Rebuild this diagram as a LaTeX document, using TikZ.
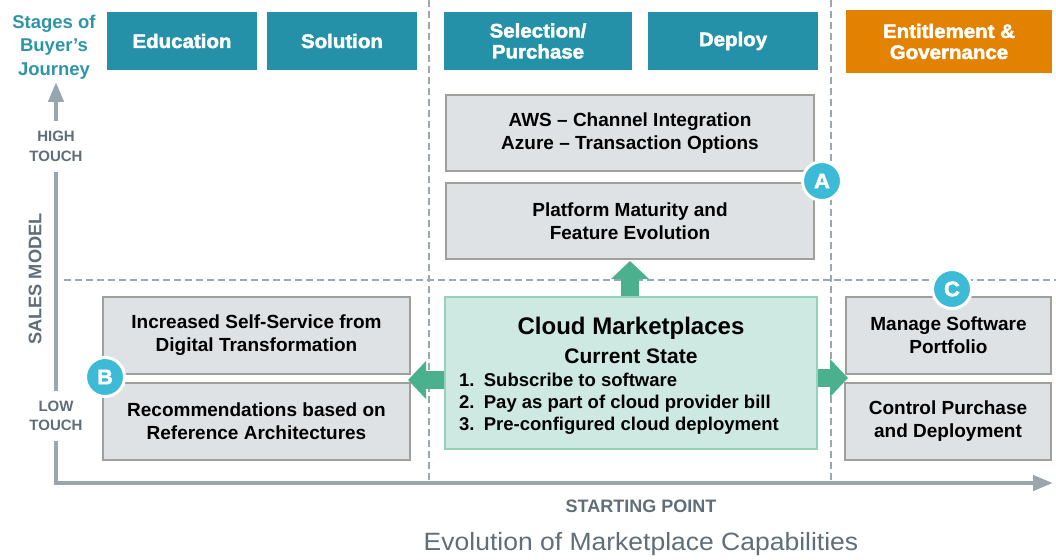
\documentclass[tikz,border=0pt]{standalone}
\usepackage{fontspec}
\setmainfont{Liberation Sans}
\usetikzlibrary{arrows.meta,positioning}

\definecolor{teal}{HTML}{2591A9}
\definecolor{stagetxt}{HTML}{2E94A8}
\definecolor{orangehd}{HTML}{E38200}
\definecolor{boxfill}{HTML}{DEE2E5}
\definecolor{boxline}{HTML}{A09F99}
\definecolor{cmfill}{HTML}{CDE9E1}
\definecolor{cmline}{HTML}{92D3BA}
\definecolor{arrowgreen}{HTML}{4BB08E}
\definecolor{axisgray}{HTML}{9AA6AD}
\definecolor{dashgray}{HTML}{9AA8B0}
\definecolor{labelgray}{HTML}{5F6E78}
\definecolor{badge}{HTML}{3CBAD6}

\newfontfamily\heavyfont[FakeBold=2.2,FakeStretch=1.05]{Liberation Sans Bold}

\tikzset{
  header/.style={rectangle, fill=#1, text=white, align=center, inner sep=0pt,
    font=\fontsize{19.5}{21}\heavyfont},
  gbox/.style={rectangle, draw=boxline, fill=boxfill, line width=1.6pt, align=center,
    inner sep=0pt, font=\fontsize{19}{23}\selectfont\bfseries},
  cmbox/.style={rectangle, draw=cmline, fill=cmfill, line width=1.6pt, inner sep=0pt},
  badgecirc/.style={circle, fill=badge, draw=white, line width=3pt, text=white,
    minimum size=39pt, inner sep=0pt, font=\fontsize{21}{21}\heavyfont},
  gridline/.style={draw=dashgray, line width=1.8pt, dash pattern=on 7pt off 4pt},
  axis/.style={draw=axisgray, line width=4.5pt,
    -{Triangle[length=20pt,width=15pt]}},
  axislabel/.style={text=labelgray, align=center, fill=white, inner xsep=2pt, inner ysep=10pt,
    font=\fontsize{15}{19.5}\selectfont\bfseries},
  garrow/.style={draw=arrowgreen, line width=18pt,
    -{Triangle[length=18pt,width=37pt]}},
}

\begin{document}
\begin{tikzpicture}[x=1pt,y=-1pt]
\useasboundingbox (0,0) rectangle (1056,559);

% quadrant grid
\draw[gridline] (429,0) -- (429,483);
\draw[gridline] (831,0) -- (831,483);
\draw[gridline] (64,280) -- (1056,280);

% axes
\coordinate (origin) at (56,483);
\coordinate (ytop) at (56,82);
\coordinate (xend) at (1053,483);
\draw[axis] (origin) -- (ytop);
\draw[axis] ([xshift=-2.25pt]origin) -- (xend);

% axis labels
\node[axislabel] (high) at (56,146.5) {HIGH\\TOUCH};
\node[axislabel] (low) at (56,416) {LOW\\TOUCH};
\node[text=labelgray, rotate=90, font=\fontsize{18.2}{18}\selectfont\bfseries] (sales) at (35,279) {SALES MODEL};
\node[text=labelgray, font=\fontsize{18}{18}\selectfont\bfseries] (start) at (641,506) {STARTING POINT};
\node[text=labelgray, font=\fontsize{25}{25}\selectfont] (title) at (641,544) {\addfontfeature{FakeStretch=1.06}Evolution of Marketplace Capabilities};

% buyer's journey stages
\node[text=stagetxt, align=center, font=\fontsize{18.5}{23.5}\selectfont\bfseries] (stages) at (54,47) {Stages of\\Buyer’s\\Journey};
\node[header=teal, minimum width=150pt, minimum height=58pt] (edu) at (182,41) {Education};
\node[header=teal, minimum width=150pt, minimum height=58pt] (sol) at (342,41) {Solution};
\node[header=teal, minimum width=188pt, minimum height=58pt] (sel) at (538,41) {Selection/\\Purchase};
\node[header=teal, minimum width=170pt, minimum height=58pt] (dep) at (733,41) {Deploy};
\node[header=orangehd, minimum width=206pt, minimum height=63pt] (ent) at (949,41.5) {Entitlement \&\\Governance};

% high-touch capabilities
\node[gbox, minimum width=368pt, minimum height=76pt] (aws) at (630,133) {AWS – Channel Integration\\Azure – Transaction Options};
\node[gbox, minimum width=368pt, minimum height=76pt] (plat) at (630,221) {Platform Maturity and\\Feature Evolution};

% low-touch capabilities, left
\node[gbox, minimum width=307pt, minimum height=77pt] (self) at (256.5,335.5) {Increased Self-Service from\\Digital Transformation};
\node[gbox, minimum width=307pt, minimum height=77pt] (reco) at (256.5,421.5) {Recommendations based on\\Reference Architectures};

% low-touch capabilities, right
\node[gbox, minimum width=205pt, minimum height=77pt] (manage) at (948.5,335.5) {Manage Software\\Portfolio};
\node[gbox, minimum width=206pt, minimum height=77pt] (control) at (948,421.5) {Control Purchase\\and Deployment};

% current state
\node[cmbox, minimum width=372pt, minimum height=152pt] (cm) at (631,373) {};
\node[font=\fontsize{24}{24}\selectfont\bfseries] (cmtitle) at (631,328) {Cloud Marketplaces};
\node[font=\fontsize{21}{21}\selectfont\bfseries] (cmsub) at (631,356) {Current State};
% list: anchored on the baseline of its last line
\node[anchor=base west, align=left, inner sep=0pt, font=\fontsize{18.5}{22}\selectfont\bfseries] (cmlist) at (459,430.5)
  {1.\hspace{0.5em}Subscribe to software\\2.\hspace{0.5em}Pay as part of cloud provider bill\\3.\hspace{0.5em}Pre-configured cloud deployment};

% evolution arrows
\draw[garrow] (cm.north -| 630,0) -- (630,261);
\draw[garrow] (cm.west |- 0,380) -- (408,380);
\draw[garrow] (cm.east |- 0,378) -- (848,378);

% badges
\node[badgecirc] (badgeA) at (822,181) {A};
\node[badgecirc] (badgeB) at (105,377) {B};
\node[badgecirc] (badgeC) at (952,289) {C};
\end{tikzpicture}
\end{document}
